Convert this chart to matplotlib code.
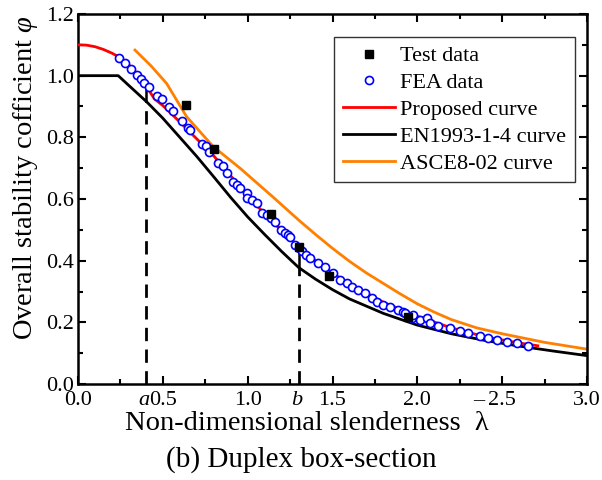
import numpy as np
import matplotlib
matplotlib.use("Agg")
import matplotlib.pyplot as plt
from matplotlib.ticker import MultipleLocator

# ---------------- data ----------------
test_lam = [0.636, 0.801, 1.136, 1.304, 1.479, 1.943]
test_phi = [0.905, 0.762, 0.550, 0.443, 0.351, 0.216]

fea_lam = [0.243, 0.279, 0.312, 0.346, 0.369, 0.389, 0.417, 0.464, 0.493, 0.538,
           0.558, 0.611, 0.650, 0.660, 0.729, 0.752, 0.774, 0.827, 0.853, 0.876,
           0.915, 0.939, 0.955, 0.994, 0.998, 1.024, 1.053, 1.082, 1.112, 1.136,
           1.161, 1.196, 1.220, 1.239, 1.249, 1.279, 1.300, 1.320, 1.345, 1.367,
           1.416, 1.456, 1.505, 1.544, 1.583, 1.613, 1.652, 1.691, 1.731, 1.760,
           1.799, 1.839, 1.888, 1.917, 1.927, 1.966, 1.976, 2.015, 2.055, 2.074,
           2.123, 2.192, 2.251, 2.300, 2.369, 2.418, 2.467, 2.526, 2.585, 2.654]
fea_phi = [1.058, 1.040, 1.022, 1.001, 0.988, 0.977, 0.962, 0.934, 0.923, 0.897,
           0.887, 0.854, 0.829, 0.824, 0.778, 0.773, 0.753, 0.716, 0.708, 0.683,
           0.656, 0.645, 0.635, 0.619, 0.602, 0.597, 0.586, 0.554, 0.548, 0.537,
           0.526, 0.500, 0.489, 0.483, 0.476, 0.451, 0.440, 0.432, 0.420, 0.408,
           0.391, 0.380, 0.359, 0.337, 0.327, 0.316, 0.305, 0.294, 0.278, 0.267,
           0.256, 0.251, 0.240, 0.235, 0.229, 0.213, 0.224, 0.208, 0.213, 0.197,
           0.188, 0.181, 0.173, 0.164, 0.156, 0.148, 0.143, 0.137, 0.132, 0.123]

prop_lam = [0.0, 0.05, 0.1, 0.15, 0.2, 0.237, 0.3, 0.35, 0.4, 0.45, 0.5, 0.6,
            0.7, 0.8, 0.9, 1.0, 1.1, 1.2, 1.3, 1.4, 1.5, 1.6, 1.8, 2.0, 2.2,
            2.4, 2.6, 2.71]
prop_phi = [1.100, 1.099, 1.094, 1.085, 1.073, 1.062, 1.035, 1.006, 0.968,
            0.925, 0.903, 0.850, 0.795, 0.740, 0.675, 0.610, 0.552, 0.497,
            0.447, 0.400, 0.360, 0.325, 0.265, 0.220, 0.182, 0.153, 0.133, 0.124]

en_lam = [0.0, 0.237, 0.3, 0.405, 0.5, 0.6, 0.7, 0.8, 0.9, 1.0, 1.1, 1.2,
          1.3, 1.4, 1.5, 1.6, 1.8, 2.0, 2.2, 2.4, 2.6, 2.8, 3.0]
en_phi = [1.0, 1.0, 0.968, 0.915, 0.862, 0.800, 0.738, 0.672, 0.605, 0.542,
          0.485, 0.430, 0.378, 0.340, 0.306, 0.276, 0.229, 0.191, 0.163,
          0.141, 0.123, 0.107, 0.092]

asce_lam = [0.336, 0.43, 0.522, 0.64, 0.797, 0.955, 1.15, 1.3, 1.4, 1.5, 1.6,
            1.7, 1.8, 1.9, 2.0, 2.1, 2.2, 2.35, 2.5, 2.75, 3.0]
asce_phi = [1.083, 1.032, 0.975, 0.867, 0.770, 0.700, 0.606, 0.532, 0.485,
            0.440, 0.398, 0.360, 0.326, 0.292, 0.260, 0.233, 0.209, 0.182,
            0.163, 0.135, 0.113]

a_lam = 0.4
b_lam = 1.3

xtick_vals = [0.0, 0.5, 1.0, 1.5, 2.0, 2.5, 3.0]
xtick_labels = ["0.0", "0.5", "1.0", "1.5", "2.0", "2.5", "3.0"]
ytick_vals = [0.0, 0.2, 0.4, 0.6, 0.8, 1.0, 1.2]

# ---------------- figure ----------------
plt.rcParams['font.family'] = ['Liberation Serif', 'DejaVu Serif']
plt.rcParams['mathtext.fontset'] = 'custom'
plt.rcParams['mathtext.it'] = 'Liberation Serif:italic'
plt.rcParams['mathtext.rm'] = 'Liberation Serif'

fig = plt.figure(figsize=(6.02, 4.80), dpi=100)
ax = fig.add_axes([78/602, 1-384/480, (587-78)/602, (384-14)/480])

ax.plot(en_lam, en_phi, color='black', lw=2.0, label='EN1993-1-4 curve', zorder=2)
ax.plot(asce_lam, asce_phi, color='#ff8000', lw=2.0, label='ASCE8-02 curve', zorder=2)
ax.plot(prop_lam, prop_phi, color='#ff0000', lw=2.0, label='Proposed curve', zorder=3)

# a / b vertical markers
for lam in (a_lam, b_lam):
    y_black = np.interp(lam, en_lam, en_phi)
    y_red = np.interp(lam, prop_lam, prop_phi)
    ax.plot([lam, lam], [0, y_black], color='black', lw=2.0,
            linestyle=(0, (4.8, 3.0)), zorder=2)
    ax.plot([lam, lam], [y_black, y_red], color='black', lw=1.8, zorder=2)

ax.plot(fea_lam, fea_phi, linestyle='none', marker='o', markersize=5.8,
        markerfacecolor='white', markeredgecolor='#0000ff', markeredgewidth=1.2,
        label='FEA data', zorder=4)
ax.plot(test_lam, test_phi, linestyle='none', marker='s', markersize=5.8,
        color='black', label='Test data', zorder=5)

ax.set_xlim(0, 3.0)
ax.set_ylim(0, 1.2)
ax.set_xticks(xtick_vals)
ax.set_xticklabels(xtick_labels)
ax.xaxis.set_minor_locator(MultipleLocator(0.25))
ax.set_yticks(ytick_vals)
ax.set_yticklabels([f"{v:.1f}" for v in ytick_vals])
ax.yaxis.set_minor_locator(MultipleLocator(0.1))
ax.tick_params(which='both', direction='in', top=True, right=True, width=1.5,
               labelsize=16)
ax.tick_params(axis='x', pad=5)
ax.tick_params(axis='y', pad=3)
ax.tick_params(which='major', length=6)
ax.tick_params(which='minor', length=3.5)
for s in ax.spines.values():
    s.set_linewidth(1.8)

# letters a, b and the stray dash under the axis, aligned with tick labels
tick_off = -5 * (100 / 72) / 308.3
ax.text(a_lam - 0.01, tick_off, "a", style='italic', fontsize=16, ha='center', va='top')
ax.text(b_lam - 0.01, tick_off, "b", style='italic', fontsize=16, ha='center', va='top')
ax.text(2.36, tick_off, "\u2013", fontsize=16, ha='center', va='top')

fig.text(307/602, 1-430/480, "Non-dimensional slenderness  \u03bb", fontsize=20.5,
         ha='center', va='baseline')
fig.text(26/602, 1-178/480, "Overall stability cofficient $\\mathit{\\varphi}$",
         fontsize=20.5, rotation=90, ha='center', va='center')
fig.text(0.5, 1-467/480, "(b) Duplex box-section", fontsize=21,
         ha='center', va='baseline')

handles, labels = ax.get_legend_handles_labels()
order = ['Test data', 'FEA data', 'Proposed curve', 'EN1993-1-4 curve', 'ASCE8-02 curve']
hmap = dict(zip(labels, handles))
leg = ax.legend([hmap[k] for k in order], order, loc='upper right',
                bbox_to_anchor=((575-78)/509, (384-37)/370), borderaxespad=0,
                fontsize=16, frameon=True, fancybox=False, edgecolor='black',
                handlelength=2.34, labelspacing=0.28, borderpad=0.4,
                handletextpad=0.25)
leg.get_frame().set_linewidth(1.0)

fig.savefig("out.png", dpi=100)
